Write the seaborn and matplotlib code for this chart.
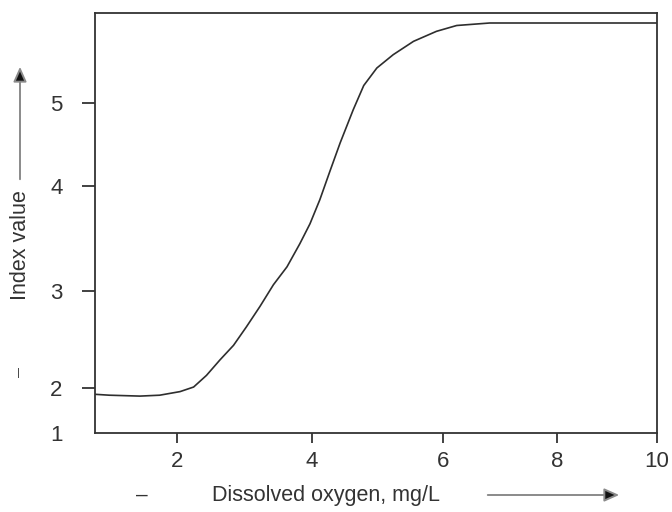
import numpy as np
import pandas as pd
import matplotlib
matplotlib.use("Agg")
import matplotlib.pyplot as plt
import seaborn as sns

# ---- data ----
oxygen = [0.8, 1.01, 1.46, 1.75, 2.05, 2.25, 2.44, 2.64, 2.84, 3.03, 3.23, 3.43,
          3.63, 3.82, 3.97, 4.12, 4.27, 4.43, 4.63, 4.79, 4.99, 5.24, 5.55,
          5.90, 6.24, 6.82, 8.0, 10.0]
index_value = [1.86, 1.84, 1.82, 1.84, 1.92, 2.01, 2.13, 2.29, 2.44, 2.63, 2.84,
               3.06, 3.23, 3.45, 3.64, 3.87, 4.17, 4.52, 4.92, 5.21, 5.42, 5.58,
               5.74, 5.86, 5.93, 5.96, 5.96, 5.96]
x_ticks = [2, 4, 6, 8, 10]
x_tick_labels = ["2", "4", "6", "8", "10"]
y_ticks = [1, 2, 3, 4, 5]
y_tick_labels = ["1", "2", "3", "4", "5"]
x_label = "Dissolved oxygen, mg/L"
y_label = "Index value"

# non-uniform axis scales of the original drawing (piecewise linear)
x_scale_vals = [0.8, 2, 4, 6, 8, 10]
x_scale_pos = [0, 81.7, 217, 348, 462, 562]
y_scale_vals = [1, 2, 3, 4, 5, 6.08]
y_scale_pos = [0, 45, 142, 247, 330, 420]

df = pd.DataFrame({"oxygen": oxygen, "index": index_value})

sns.set_theme(style="white")
plt.rcParams["font.family"] = ["Liberation Sans", "DejaVu Sans"]

fig = plt.figure(figsize=(6.72, 5.12), dpi=100)
ax = fig.add_axes([95 / 672, 1 - 433 / 512, 562 / 672, 420 / 512])

ax.set_xscale("function", functions=(lambda v: np.interp(v, x_scale_vals, x_scale_pos),
                                     lambda p: np.interp(p, x_scale_pos, x_scale_vals)))
ax.set_yscale("function", functions=(lambda v: np.interp(v, y_scale_vals, y_scale_pos),
                                     lambda p: np.interp(p, y_scale_pos, y_scale_vals)))

sns.lineplot(data=df, x="oxygen", y="index", ax=ax, color="#2e2e2e", linewidth=1.2)
for ln in ax.get_lines():
    ln.set_solid_joinstyle("round")

ax.set_xlim(0.8, 10)
ax.set_ylim(1, 6.08)

dark = "#333333"
for s in ax.spines.values():
    s.set_visible(True)
    s.set_color(dark)
    s.set_linewidth(1.3)

ax.set_xticks(x_ticks)
ax.set_xticklabels(x_tick_labels)
ax.set_yticks(y_ticks)
ax.set_yticklabels(y_tick_labels)
ax.minorticks_off()
ax.tick_params(axis="x", direction="out", length=7.2, width=1.3, color=dark,
               pad=6, labelsize=16, labelcolor=dark, bottom=True)
ax.tick_params(axis="y", direction="out", length=9.4, width=1.3, color=dark,
               pad=14, labelsize=16, labelcolor=dark, left=True)
ax.yaxis.get_major_ticks()[0].tick1line.set_visible(False)

ax.set_xlabel("")
ax.set_ylabel("")

# axis titles with arrows as in the original
fig.text(326 / 672, 1 - 495 / 512, x_label, ha="center", va="center",
         fontsize=15.5, color=dark)
fig.text(21 / 672, 1 - 245 / 512, y_label, ha="center", va="center",
         rotation=90, fontsize=15.5, color=dark)
fig.text(142 / 672, 1 - 495 / 512, "–", ha="center", va="center",
         fontsize=15, color=dark)
fig.text(18 / 672, 1 - 373 / 512, "|", ha="center", va="center",
         fontsize=8, color=dark)

arrow_style = "-|>,head_length=9,head_width=4"
fig.add_artist(matplotlib.patches.FancyArrowPatch(
    (485 / 672, 1 - 495 / 512), (622 / 672, 1 - 495 / 512),
    transform=fig.transFigure, arrowstyle=arrow_style,
    edgecolor="#8a8a8a", facecolor="#111111", linewidth=1.4, mutation_scale=1))
fig.add_artist(matplotlib.patches.FancyArrowPatch(
    (20 / 672, 1 - 182 / 512), (20 / 672, 1 - 64 / 512),
    transform=fig.transFigure, arrowstyle=arrow_style,
    edgecolor="#8a8a8a", facecolor="#111111", linewidth=1.4, mutation_scale=1))

fig.savefig("out.png", dpi=100, facecolor="white")
